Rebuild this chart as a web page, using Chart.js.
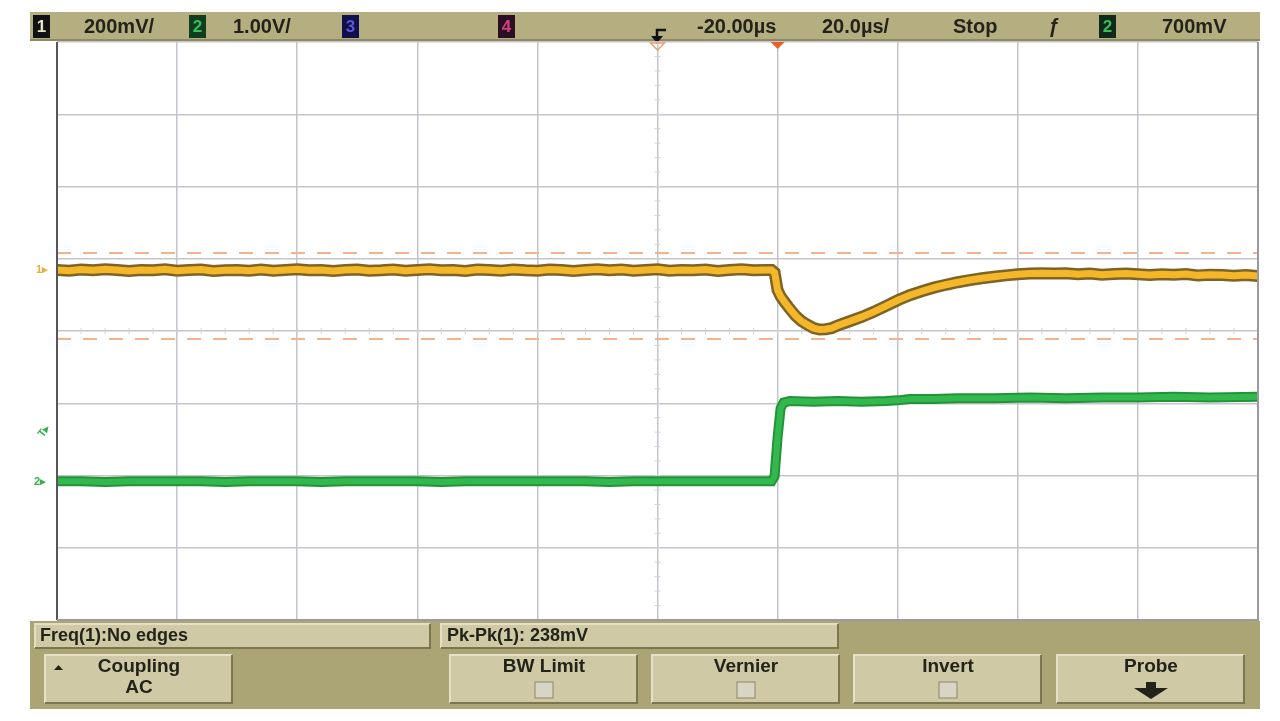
<!DOCTYPE html>
<html>
<head>
<meta charset="utf-8">
<script src="https://cdn.jsdelivr.net/npm/chart.js@4.4.1/dist/chart.umd.min.js"></script>
<style>
  html, body { margin: 0; padding: 0; background: #fff; }
  #scope { display: block; }
</style>
</head>
<body>
<canvas id="scope" width="1280" height="721"></canvas>
<script>
// time base: 20 us/div, delay -20 us -> screen spans -120 .. 80 us
const timeTicks = [-120, -100, -80, -60, -40, -20, 0, 20, 40, 60, 80];

// channel 1 (AC, 200 mV/div), values in mV
const ch1Time = [
  -120, -118, -116, -114, -112, -110, -108, -106, -104, -102,
  -100, -98, -96, -94, -92, -90, -88, -86, -84, -82,
  -80, -78, -76, -74, -72, -70, -68, -66, -64, -62,
  -60, -58, -56, -54, -52, -50, -48, -46, -44, -42,
  -40, -38, -36, -34, -32, -30, -28, -26, -24, -22,
  -20, -18, -16, -14, -12, -10, -8, -6, -4, -2,
  -1, -0.5, 0, 0.5, 1, 2, 3, 4, 5, 6, 7, 8, 9, 10,
  12, 14, 16, 18, 20, 22, 24, 26, 28, 30, 32, 34, 36, 38, 40, 42, 44,
  46, 48, 50, 52, 54, 56, 58, 60, 62, 64, 66, 68, 70, 72, 74, 76, 78, 80
];
const ch1Values = [
  1, -1, 2, 0, 3, 1, -2, 1, 0, 3,
  -1, 1, 2, -2, 0, 1, -1, 2, -1, 1,
  3, 0, 1, -2, 1, 2, -1, 0, 2, -1,
  1, 3, 0, 1, -2, 2, 1, -1, 2, 0,
  -1, 2, 1, -2, 1, 3, 0, 2, -1, 1,
  3, -1, 1, 0, 2, -2, 1, 3, 0, 1,
  1, -6, -55, -72, -84, -106, -126, -141, -151, -160, -164, -163, -160, -153,
  -141, -129, -115, -99, -83, -69, -58, -48, -40, -33, -27, -22, -18, -14, -11, -9, -8,
  -9, -8, -11, -9, -12, -10, -9, -11, -13, -11, -12, -10, -14, -12, -13, -15, -13, -16
];

// channel 2 (1.00 V/div), values in V
const ch2Time = [
  -120, -116, -112, -108, -104, -100, -96, -92, -88, -84,
  -80, -76, -72, -68, -64, -60, -56, -52, -48, -44,
  -40, -36, -32, -28, -24, -20, -16, -12, -8, -4,
  -1, -0.5, 0, 0.5, 1, 2, 6, 10, 14, 18, 20, 22, 26, 30,
  36, 42, 48, 54, 60, 66, 72, 80
];
const ch2Values = [
  0.01, 0.01, 0.00, 0.01, 0.01, 0.01, 0.01, 0.00, 0.01, 0.01,
  0.01, 0.00, 0.01, 0.01, 0.01, 0.01, 0.00, 0.01, 0.01, 0.01,
  0.01, 0.01, 0.01, 0.00, 0.01, 0.01, 0.01, 0.01, 0.01, 0.01,
  0.01, 0.08, 0.62, 1.02, 1.10, 1.12, 1.11, 1.12, 1.11, 1.12, 1.13, 1.15, 1.15, 1.16,
  1.16, 1.17, 1.16, 1.17, 1.17, 1.18, 1.17, 1.18
];

// Pk-Pk(1) measurement markers, mV
const ch1Max = 48;
const ch1Min = -190;

const ch1Offset = 0.84;   // divisions above centre
const ch2Offset = -2.09;
const ch1PerDiv = 200;    // mV
const ch2PerDiv = 1;      // V

function pts(xs, ys) {
  return xs.map((x, i) => ({ x: x, y: ys[i] }));
}

const gridColor = '#c4c4cf';
const textColor = '#23231a';
const fontFace = '"Liberation Sans", Arial, sans-serif';

function box(ctx, x, y, w, h, fill, hi, lo) {
  ctx.fillStyle = fill;
  ctx.fillRect(x, y, w, h);
  ctx.lineWidth = 2;
  ctx.strokeStyle = hi;
  ctx.beginPath();
  ctx.moveTo(x, y + h); ctx.lineTo(x, y); ctx.lineTo(x + w, y);
  ctx.stroke();
  ctx.strokeStyle = lo;
  ctx.beginPath();
  ctx.moveTo(x + w, y); ctx.lineTo(x + w, y + h); ctx.lineTo(x, y + h);
  ctx.stroke();
}

function chanBox(ctx, x, label, bg, fg) {
  ctx.fillStyle = bg;
  ctx.fillRect(x, 15, 17, 23);
  ctx.fillStyle = fg;
  ctx.font = 'bold 17px ' + fontFace;
  ctx.textAlign = 'center';
  ctx.fillText(label, x + 8.5, 27);
}

const scopeFrame = {
  id: 'scopeFrame',
  beforeDraw(chart) {
    const ctx = chart.ctx;
    ctx.save();
    ctx.fillStyle = '#ffffff';
    ctx.fillRect(0, 0, chart.width, chart.height);
    // top status bar
    ctx.fillStyle = '#b5ae80';
    ctx.fillRect(30, 12, 1230, 29);
    ctx.fillStyle = '#8f8960';
    ctx.fillRect(30, 39, 1230, 2);
    ctx.textBaseline = 'middle';
    chanBox(ctx, 33, '1', '#111111', '#e8e4c8');
    chanBox(ctx, 189, '2', '#0f3d1e', '#38c060');
    chanBox(ctx, 342, '3', '#10104a', '#5a5ad8');
    chanBox(ctx, 498, '4', '#2a0f22', '#d0407a');
    chanBox(ctx, 1099, '2', '#0f2a18', '#38c060');
    ctx.fillStyle = textColor;
    ctx.font = 'bold 20px ' + fontFace;
    ctx.textAlign = 'left';
    ctx.fillText('200mV/', 84, 27);
    ctx.fillText('1.00V/', 233, 27);
    ctx.fillText('-20.00µs', 697, 27);
    ctx.fillText('20.0µs/', 822, 27);
    ctx.fillText('Stop', 953, 27);
    ctx.fillText('700mV', 1162, 27);
    ctx.font = 'italic bold 20px ' + fontFace;
    ctx.fillText('ƒ', 1048, 27);
    // delay reference glyph
    ctx.strokeStyle = '#111';
    ctx.lineWidth = 2.5;
    ctx.beginPath();
    ctx.moveTo(666, 30); ctx.lineTo(657, 30); ctx.lineTo(657, 39);
    ctx.stroke();
    ctx.fillStyle = '#111';
    ctx.beginPath();
    ctx.moveTo(651, 36); ctx.lineTo(663, 36); ctx.lineTo(657, 43);
    ctx.fill();

    // bottom soft-key panel
    ctx.fillStyle = '#aba576';
    ctx.fillRect(30, 621, 1230, 88);
    box(ctx, 35, 624, 395, 24, '#cfc9a5', '#e4dfc2', '#7c7650');
    box(ctx, 441, 624, 397, 24, '#cfc9a5', '#e4dfc2', '#7c7650');
    ctx.fillStyle = textColor;
    ctx.font = 'bold 18px ' + fontFace;
    ctx.textAlign = 'left';
    ctx.fillText('Freq(1):No edges', 40, 636);
    ctx.fillText('Pk-Pk(1): 238mV', 447, 636);
    const keys = [
      { x: 45, top: 'Coupling', sub: 'AC' },
      { x: 450, top: 'BW Limit', sub: 'box' },
      { x: 652, top: 'Vernier', sub: 'box' },
      { x: 854, top: 'Invert', sub: 'box' },
      { x: 1057, top: 'Probe', sub: 'arrow' }
    ];
    keys.forEach(k => {
      box(ctx, k.x, 655, 187, 48, '#cfc9a5', '#e6e1c6', '#7c7650');
      const cx = k.x + 94;
      ctx.fillStyle = textColor;
      ctx.font = 'bold 19px ' + fontFace;
      ctx.textAlign = 'center';
      ctx.fillText(k.top, cx, 667);
      if (k.sub === 'AC') {
        ctx.fillText('AC', cx, 688);
        ctx.beginPath();
        ctx.moveTo(54, 670); ctx.lineTo(63, 670); ctx.lineTo(58.5, 665);
        ctx.fill();
      } else if (k.sub === 'box') {
        ctx.fillStyle = '#d8d5c4';
        ctx.fillRect(cx - 9, 682, 18, 16);
        ctx.strokeStyle = '#8a8568';
        ctx.lineWidth = 1;
        ctx.strokeRect(cx - 9, 682, 18, 16);
      } else {
        ctx.fillRect(cx - 5, 682, 10, 7);
        ctx.beginPath();
        ctx.moveTo(cx - 17, 688); ctx.lineTo(cx + 17, 688); ctx.lineTo(cx, 699);
        ctx.fill();
      }
    });
    ctx.restore();
  },
  beforeDatasetsDraw(chart) {
    const ctx = chart.ctx;
    const xs = chart.scales.x;
    const yd = chart.scales.yDiv;
    const cx = xs.getPixelForValue(-20);
    const cy = yd.getPixelForValue(0);
    ctx.save();
    ctx.strokeStyle = '#d2d2da';
    ctx.lineWidth = 1;
    // minor ticks on the centre graticule lines
    for (let v = -4; v <= 4; v += 0.2) {
      const py = yd.getPixelForValue(v);
      ctx.beginPath(); ctx.moveTo(cx - 3, py); ctx.lineTo(cx + 3, py); ctx.stroke();
    }
    for (let t = -120; t <= 80; t += 4) {
      const px = xs.getPixelForValue(t);
      ctx.beginPath(); ctx.moveTo(px, cy - 3); ctx.lineTo(px, cy + 3); ctx.stroke();
    }
    ctx.restore();
  },
  afterDraw(chart) {
    const ctx = chart.ctx;
    const a = chart.chartArea;
    const xs = chart.scales.x;
    const y1 = chart.scales.y1;
    const y2 = chart.scales.y2;
    ctx.save();
    // screen border
    ctx.strokeStyle = '#55555c';
    ctx.lineWidth = 2;
    ctx.beginPath(); ctx.moveTo(a.left, a.top); ctx.lineTo(a.left, a.bottom); ctx.stroke();
    ctx.strokeStyle = '#9a9aa2';
    ctx.beginPath(); ctx.moveTo(a.left, a.bottom); ctx.lineTo(a.right, a.bottom); ctx.lineTo(a.right, a.top); ctx.stroke();
    // trigger and delay markers
    const tx = xs.getPixelForValue(0);
    ctx.fillStyle = '#e4622a';
    ctx.beginPath(); ctx.moveTo(tx - 7, a.top); ctx.lineTo(tx + 7, a.top); ctx.lineTo(tx, a.top + 7); ctx.fill();
    const dx = xs.getPixelForValue(-20);
    ctx.strokeStyle = '#e8a070';
    ctx.lineWidth = 1.5;
    ctx.beginPath(); ctx.moveTo(dx - 7, a.top + 1); ctx.lineTo(dx + 7, a.top + 1); ctx.lineTo(dx, a.top + 8); ctx.closePath(); ctx.stroke();
    // channel ground / trigger level markers
    ctx.font = 'bold 11px ' + fontFace;
    ctx.textAlign = 'left';
    ctx.textBaseline = 'middle';
    ctx.fillStyle = '#e6b040';
    ctx.fillText('1▸', 36, y1.getPixelForValue(0));
    ctx.fillStyle = '#35b050';
    ctx.fillText('2▸', 34, y2.getPixelForValue(0));
    ctx.save();
    ctx.translate(44, y2.getPixelForValue(0.7));
    ctx.rotate(-0.9);
    ctx.fillText('T▸', -6, 0);
    ctx.restore();
    ctx.restore();
  }
};

const ctx = document.getElementById('scope').getContext('2d');
new Chart(ctx, {
  type: 'line',
  data: {
    datasets: [
      {
        label: 'Ch1',
        data: pts(ch1Time, ch1Values),
        yAxisID: 'y1',
        borderColor: '#f4b72a',
        borderWidth: 7,
        pointRadius: 0,
        order: 0
      },
      {
        label: 'Ch1 edge',
        data: pts(ch1Time, ch1Values),
        yAxisID: 'y1',
        borderColor: '#7d6424',
        borderWidth: 12,
        pointRadius: 0,
        order: 1
      },
      {
        label: 'Ch2',
        data: pts(ch2Time, ch2Values),
        yAxisID: 'y2',
        borderColor: '#33b84d',
        borderWidth: 6,
        pointRadius: 0,
        order: 2
      },
      {
        label: 'Ch2 edge',
        data: pts(ch2Time, ch2Values),
        yAxisID: 'y2',
        borderColor: '#23933a',
        borderWidth: 10,
        pointRadius: 0,
        order: 3
      },
      {
        label: 'Max(1)',
        data: pts([-120, 80], [ch1Max, ch1Max]),
        yAxisID: 'y1',
        borderColor: '#f3b48c',
        borderWidth: 2,
        borderDash: [14, 12],
        pointRadius: 0,
        order: 4
      },
      {
        label: 'Min(1)',
        data: pts([-120, 80], [ch1Min, ch1Min]),
        yAxisID: 'y1',
        borderColor: '#f3b48c',
        borderWidth: 2,
        borderDash: [14, 12],
        pointRadius: 0,
        order: 5
      }
    ]
  },
  options: {
    responsive: false,
    maintainAspectRatio: false,
    animation: false,
    layout: {
      padding: { left: 57, right: 22, top: 42, bottom: 101 }
    },
    plugins: {
      legend: { display: false },
      tooltip: { enabled: false }
    },
    scales: {
      x: {
        type: 'linear',
        min: -120,
        max: 80,
        afterBuildTicks: (s) => { s.ticks = timeTicks.map(v => ({ value: v })); },
        ticks: { display: false },
        grid: { color: gridColor, lineWidth: 1.5, drawTicks: false },
        border: { display: false }
      },
      yDiv: {
        type: 'linear',
        position: 'left',
        min: -4,
        max: 4,
        ticks: { display: false, stepSize: 1 },
        grid: { color: gridColor, lineWidth: 1.5, drawTicks: false },
        border: { display: false }
      },
      y1: {
        display: false,
        min: -(4 + ch1Offset) * ch1PerDiv,
        max: (4 - ch1Offset) * ch1PerDiv
      },
      y2: {
        display: false,
        min: -(4 + ch2Offset) * ch2PerDiv,
        max: (4 - ch2Offset) * ch2PerDiv
      }
    }
  },
  plugins: [scopeFrame]
});
</script>
</body>
</html>
